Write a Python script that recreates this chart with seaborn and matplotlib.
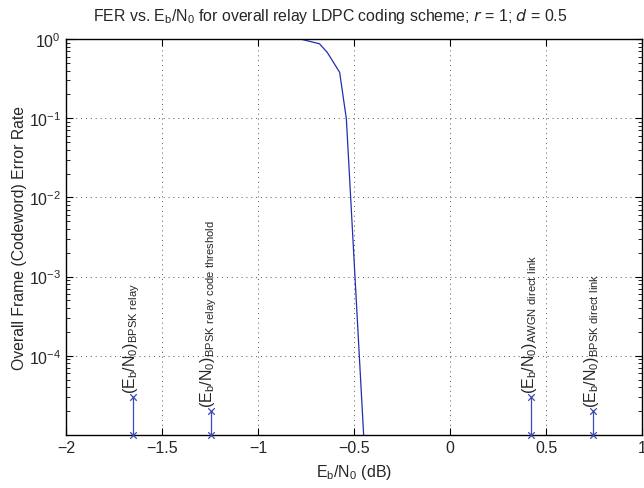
import numpy as np
import pandas as pd
import seaborn as sns
import matplotlib.pyplot as plt
from matplotlib.ticker import LogLocator, NullFormatter

# FER curve
ebn0_db = [-0.80, -0.78, -0.68, -0.64, -0.575, -0.54, -0.45]
fer = [1.0, 1.0, 0.87, 0.68, 0.38, 0.098, 1.0e-5]

# reference points (stems)
ref_x = [-1.65, -1.245, 0.423, 0.745]
ref_top = [3e-5, 2e-5, 3e-5, 2e-5]
ref_labels = [
    r'$(E_b/N_0)_{BPSK\ relay}$',
    r'$(E_b/N_0)_{BPSK\ relay\ code\ threshold}$',
    r'$(E_b/N_0)_{AWGN\ direct\ link}$',
    r'$(E_b/N_0)_{BPSK\ direct\ link}$',
]
x_ticks = [-2, -1.5, -1, -0.5, 0, 0.5, 1]
y_bottom = 1e-5

sns.set_style('ticks')
plt.rcParams['font.family'] = ['Liberation Sans', 'DejaVu Sans']
plt.rcParams['mathtext.default'] = 'regular'
plt.rcParams['axes.unicode_minus'] = True

fig = plt.figure(figsize=(6.44, 4.89), dpi=100)
ax = fig.add_axes([0.1025, 0.1084, 0.8945, 0.8098])

curve = pd.DataFrame({'x': ebn0_db, 'y': fer})
sns.lineplot(data=curve, x='x', y='y', ax=ax, color='#1f2fb0', linewidth=0.9, sort=False)

stem_color = '#3a4ab5'
for x, top in zip(ref_x, ref_top):
    ax.plot([x, x], [y_bottom, top], color=stem_color, linewidth=0.9, clip_on=False)
pts = pd.DataFrame({'x': ref_x + ref_x, 'y': ref_top + [y_bottom] * len(ref_x)})
sns.scatterplot(data=pts, x='x', y='y', ax=ax, marker='x', color=stem_color,
                s=22, linewidth=0.9, clip_on=False, zorder=5)

for x, top, lab in zip(ref_x, ref_top, ref_labels):
    ax.text(x - 0.01, top * 1.12, lab, rotation=90, ha='center', va='bottom',
            fontsize=11.5)

ax.set_yscale('log')
ax.set_xlim(-2, 1)
ax.set_ylim(y_bottom, 1)
ax.set_xticks(x_ticks)
ax.set_xticklabels(['\u22122', '\u22121.5', '\u22121', '\u22120.5', '0', '0.5', '1'])
ax.yaxis.set_major_locator(LogLocator(base=10, numticks=10))
ax.yaxis.set_minor_locator(LogLocator(base=10, subs=np.arange(2, 10), numticks=20))
ax.yaxis.set_minor_formatter(NullFormatter())
ax.set_yticks([1e-4, 1e-3, 1e-2, 1e-1, 1])

ax.grid(True, which='major', linestyle=(0, (1, 4)), color='#555555', linewidth=0.7)
ax.tick_params(which='both', direction='in', top=True, right=True, labelsize=11.5,
               color='black')
ax.tick_params(which='major', length=5, width=0.8)
ax.tick_params(which='minor', length=3, width=0.6)
for s in ax.spines.values():
    s.set_color('black')
    s.set_linewidth(1.0)

ax.set_xlabel(r'$E_b/N_0$ (dB)', fontsize=11.5, labelpad=5)
ax.set_ylabel('Overall Frame (Codeword) Error Rate', fontsize=11.3, labelpad=1)
ax.set_title(r'FER vs. $E_b/N_0$ for overall relay LDPC coding scheme; $\mathit{r}$ = 1; $\mathit{d}$ = 0.5',
             fontsize=11.4, pad=14, x=0.458)

fig.savefig('out.png', dpi=100)
